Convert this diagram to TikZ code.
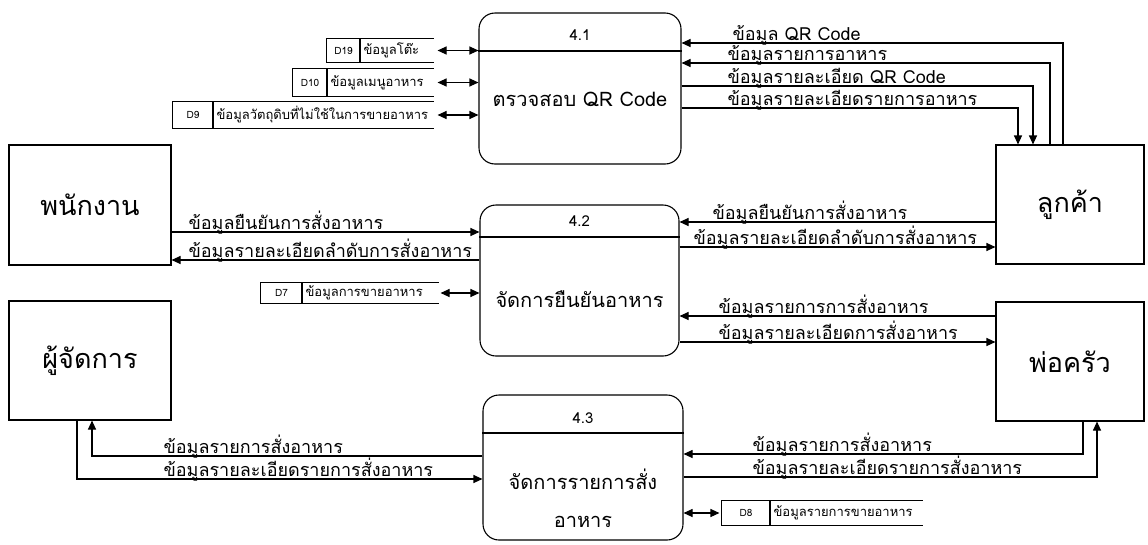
\documentclass[tikz,border=0pt]{standalone}
\usepackage{fontspec}
\newfontfamily\thai[Script=Thai]{Loma}
\usetikzlibrary{arrows.meta}
\begin{document}
\begin{tikzpicture}[x=1pt,y=-1pt,
  line width=1.1pt,
  ent/.style={draw, minimum width=#1, inner sep=0pt, font=\thai\fontsize{27}{28}\selectfont},
  proc/.style={draw, rounded corners=16pt, inner sep=0pt},
  ttl/.style={font=\thai\fontsize{15}{16}\selectfont},
  ptxt/.style={font=\thai\fontsize{20}{22}\selectfont},
  lbl/.style={anchor=base west, inner sep=0pt, font=\thai\fontsize{18}{19}\selectfont},
  stxt/.style={inner sep=0pt, font=\thai\fontsize{10}{11}\selectfont},
  sl/.style={inner sep=0pt, font=\thai\fontsize{13}{14}\selectfont},
  arr/.style={-{Triangle[length=9pt,width=8pt]}},
  darr/.style={{Triangle[length=9pt,width=8pt]}-{Triangle[length=9pt,width=8pt]}},
]
\useasboundingbox (0,0) rectangle (1148,544);
% ---------- entities
\node[ent=162, minimum height=120] (emp) at (90,205) {พนักงาน};
\node[ent=162, minimum height=119] (mgr) at (90,360.5) {ผู้จัดการ};
\node[ent=148, minimum height=119] (cust) at (1070,204.5) {ลูกค้า};
\node[ent=148, minimum height=119] (cook) at (1070,361.5) {พ่อครัว};
% ---------- processes
\node[proc, minimum width=202, minimum height=151] (p41) at (580,88.5) {};
\node[proc, minimum width=199, minimum height=151] (p42) at (579.5,280.5) {};
\node[proc, minimum width=200, minimum height=145] (p43) at (583,467.5) {};
\coordinate (dv41) at (0,51);
\coordinate (dv42) at (0,237);
\coordinate (dv43) at (0,433);
\draw (p41.west |- dv41) -- (p41.east |- dv41);
\draw (p42.west |- dv42) -- (p42.east |- dv42);
\draw (p43.west |- dv43) -- (p43.east |- dv43);
\node[ttl] (t41) at (580,35) {4.1};
\node[ttl] (t42) at (579.5,221) {4.2};
\node[ttl] (t43) at (583,418) {4.3};
\node[ptxt] (x41) at (580,99) {ตรวจสอบ QR Code};
\node[ptxt] (x42) at (579.5,299) {จัดการยืนยันอาหาร};
\node[ptxt] (x43a) at (583,479) {จัดการรายการสั่ง};
\node[ptxt] (x43b) at (583,522) {อาหาร};
% ---------- data stores
\newcommand\dstore[8]{% name, x1, y1, x2, y2, xdiv, id, label
  \node[minimum width=#4-#2, minimum height=#5-#3, inner sep=0pt] (#1) at ({(#2+#4)/2},{(#3+#5)/2}) {};
  \draw (#1.north east) -- (#1.north west) -- (#1.south west) -- (#1.south east);
  \coordinate (#1d) at (#6,#3);
  \draw (#1d) -- (#1d |- #1.south);
  \node[stxt] (#1i) at ({(#2+#6)/2},{(#3+#5)/2}) {#7};
  \node[sl, anchor=west] (#1l) at (#6+3,{(#3+#5)/2}) {#8};
}
\dstore{d19}{327}{39}{433}{62}{360}{D19}{ข้อมูลโต๊ะ}
\dstore{d10}{293}{69}{433}{96}{327}{D10}{ข้อมูลเมนูอาหาร}
\dstore{d9}{173}{102}{433}{128}{213}{D9}{ข้อมูลวัตถุดิบที่ไม่ใช้ในการขายอาหาร}
\dstore{d7}{261}{283}{438}{303}{302}{D7}{ข้อมูลการขายอาหาร}
\dstore{d8}{722}{501}{922}{525}{770}{D8}{ข้อมูลรายการขายอาหาร}
\draw[darr] ([xshift=4pt]d19.east) -- (p41.west |- d19.east);
\draw[darr] ([xshift=4pt]d10.east) -- (p41.west |- d10.east);
\draw[darr] ([xshift=4pt]d9.east) -- (p41.west |- d9.east);
\draw[darr] ([xshift=2pt]d7.east) -- (p42.west |- d7.east);
\draw[darr] (p43.east |- d8.west) -- ([xshift=-2pt]d8.west);
% ---------- 4.1 <-> customer
\coordinate (a1) at (1063,43);
\coordinate (a2) at (1050,63);
\coordinate (a3) at (1033,86);
\coordinate (a4) at (1018,108);
\draw[arr] (cust.north -| a1) |- (p41.east |- a1);
\draw[arr] (cust.north -| a2) |- (p41.east |- a2);
\draw[arr] (p41.east |- a3) -| (cust.north -| a3);
\draw[arr] (p41.east |- a4) -| (cust.north -| a4);
\node[lbl] (l1) at (732,40) {ข้อมูล QR Code};
\node[lbl] (l2) at (727,60) {ข้อมูลรายการอาหาร};
\node[lbl] (l3) at (727,83) {ข้อมูลรายละเอียด QR Code};
\node[lbl] (l4) at (727,105) {ข้อมูลรายละเอียดรายการอาหาร};
% ---------- 4.2
\coordinate (b1) at (0,232);
\coordinate (b2) at (0,260);
\draw[arr] (emp.east |- b1) -- (p42.west |- b1);
\draw[arr] (p42.west |- b2) -- (emp.east |- b2);
\node[lbl] (l5) at (188,229) {ข้อมูลยืนยันการสั่งอาหาร};
\node[lbl] (l6) at (188,257) {ข้อมูลรายละเอียดลำดับการสั่งอาหาร};
\coordinate (c1) at (0,222);
\coordinate (c2) at (0,247);
\coordinate (c3) at (0,316);
\coordinate (c4) at (0,342);
\draw[arr] (cust.west |- c1) -- (p42.east |- c1);
\draw[arr] (p42.east |- c2) -- (cust.west |- c2);
\draw[arr] (cook.west |- c3) -- (p42.east |- c3);
\draw[arr] (p42.east |- c4) -- (cook.west |- c4);
\node[lbl] (l7) at (712,219) {ข้อมูลยืนยันการสั่งอาหาร};
\node[lbl] (l8) at (693,244) {ข้อมูลรายละเอียดลำดับการสั่งอาหาร};
\node[lbl] (l9) at (718,313) {ข้อมูลรายการการสั่งอาหาร};
\node[lbl] (l10) at (718,339) {ข้อมูลรายละเอียดการสั่งอาหาร};
% ---------- 4.3
\coordinate (e1) at (92,456);
\coordinate (e2) at (77,479);
\draw[arr] (p43.west |- e1) -| (mgr.south -| e1);
\draw[arr] (mgr.south -| e2) |- (p43.west |- e2);
\node[lbl] (l11) at (163,453) {ข้อมูลรายการสั่งอาหาร};
\node[lbl] (l12) at (163,476) {ข้อมูลรายละเอียดรายการสั่งอาหาร};
\coordinate (f1) at (1083,454);
\coordinate (f2) at (1097,477);
\draw[arr] (cook.south -| f1) |- (p43.east |- f1);
\draw[arr] (p43.east |- f2) -| (cook.south -| f2);
\node[lbl] (l13) at (752,451) {ข้อมูลรายการสั่งอาหาร};
\node[lbl] (l14) at (752,474) {ข้อมูลรายละเอียดรายการสั่งอาหาร};
\end{tikzpicture}
\end{document}
